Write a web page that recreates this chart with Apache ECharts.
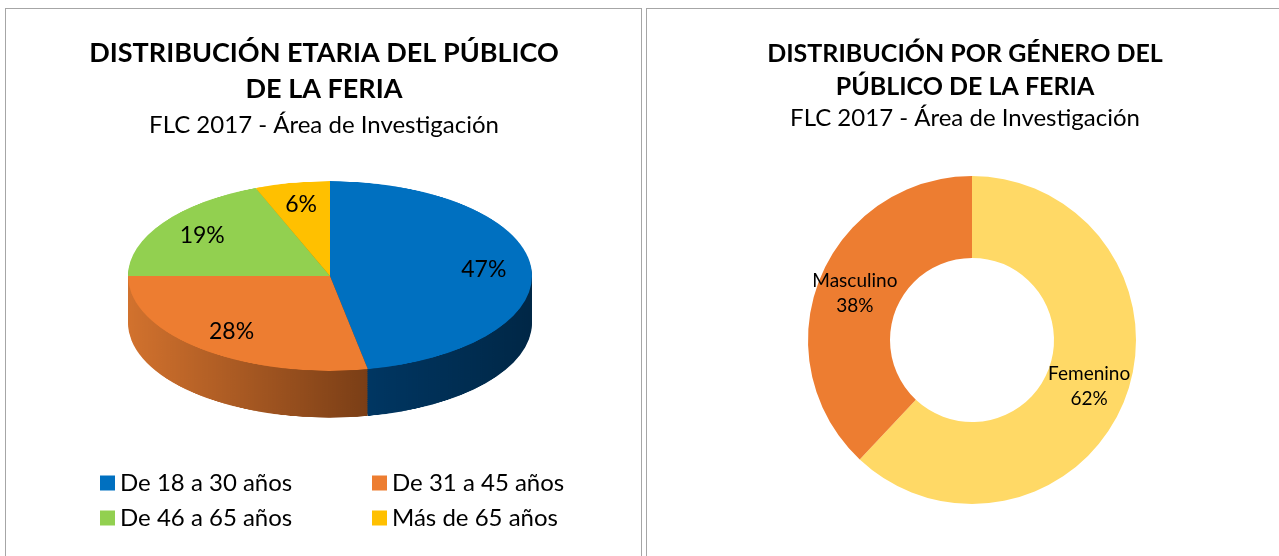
<!DOCTYPE html>
<html>
<head>
<meta charset="utf-8">
<script src="https://cdn.jsdelivr.net/npm/echarts@6/dist/echarts.min.js"></script>
<style>
  html, body { margin: 0; padding: 0; background: #fff; overflow: hidden; }
  #wrap { position: relative; width: 1279px; height: 556px; }
  .panel { position: absolute; top: 8px; height: 560px; border: 1px solid #a6a6a6; }
  /* the 3d pie is drawn round and squeezed vertically */
  #pie3d { position: absolute; left: 0; top: 0; width: 640px; height: 700px;
           transform-origin: 0 276px; transform: scaleY(0.469); }
  #main { position: absolute; left: 0; top: 0; width: 1279px; height: 556px; }
</style>
</head>
<body>
<div id="wrap">
  <div class="panel" style="left:5px;width:635px;"></div>
  <div class="panel" style="left:646px;width:700px;"></div>
  <div id="pie3d"></div>
  <div id="main"></div>
</div>
<script>
  // datos
  var ageNames = ['De 18 a 30 años', 'De 31 a 45 años', 'De 46 a 65 años', 'Más de 65 años'];
  var ageValues = [47, 28, 19, 6];
  var ageColors = ['#0070C0', '#ED7D31', '#92D050', '#FFC000'];
  var ageSideColors = [['#003a69', '#002746'], ['#d2722e', '#7a3e16'], ['#6f9f3c', '#4e7b27'], ['#cc9a00', '#9a7400']];

  var genderNames = ['Femenino', 'Masculino'];
  var genderValues = [62, 38];
  var genderColors = ['#FFD966', '#ED7D31'];

  var tilt = 0.469;
  var cx = 330, cy = 276, r = 202, depth = 100;
  var font = 'Lato';

  function ageData(colors, gradient) {
    return ageValues.map(function (v, i) {
      var c = gradient
        ? new echarts.graphic.LinearGradient(0, 0, 1, 0, [
            {offset: 0, color: colors[i][0]},
            {offset: 1, color: colors[i][1]}
          ])
        : colors[i];
      return {value: v, name: ageNames[i], itemStyle: {color: c}};
    });
  }

  // --- pie 3d (squeezed by css) ---
  var pieSeries = [];
  for (var k = depth; k > 0; k -= 4) {
    pieSeries.push({
      type: 'pie', silent: true, z: 1,
      center: [cx, cy + k], radius: r, startAngle: 90,
      label: {show: false}, labelLine: {show: false},
      data: ageData(ageSideColors, true)
    });
  }
  pieSeries.push({
    type: 'pie', silent: true, z: 2,
    center: [cx, cy], radius: r, startAngle: 90,
    label: {show: false}, labelLine: {show: false},
    data: ageData(ageColors, false)
  });

  var pie3d = echarts.init(document.getElementById('pie3d'));
  pie3d.setOption({animation: false, series: pieSeries});

  // --- titles, legend, labels and donut ---
  var legendPos = [[100, 468], [372, 468], [100, 503], [372, 503]];
  var legends = ageNames.map(function (n, i) {
    return {
      left: legendPos[i][0], top: legendPos[i][1], padding: 0,
      itemWidth: 15, itemHeight: 15, icon: 'rect',
      data: [{name: n, itemStyle: {color: ageColors[i], opacity: 1}}],
      textStyle: {fontFamily: font, fontSize: 24, lineHeight: 30, color: '#000'}
    };
  });

  var main = echarts.init(document.getElementById('main'));
  main.setOption({
    animation: false,
    title: [
      {
        text: 'DISTRIBUCIÓN ETARIA DEL PÚBLICO\nDE LA FERIA',
        subtext: 'FLC 2017 - Área de Investigación',
        left: 324, top: 35, textAlign: 'center', padding: 0, itemGap: 3,
        textStyle: {fontFamily: font, fontWeight: 'bold', fontSize: 27, lineHeight: 36, color: '#000'},
        subtextStyle: {fontFamily: font, fontSize: 24, lineHeight: 30, color: '#000'}
      },
      {
        text: 'DISTRIBUCIÓN POR GÉNERO DEL\nPÚBLICO DE LA FERIA',
        subtext: 'FLC 2017 - Área de Investigación',
        left: 965, top: 37, textAlign: 'center', padding: 0, itemGap: 0,
        textStyle: {fontFamily: font, fontWeight: 'bold', fontSize: 25, lineHeight: 33, color: '#000'},
        subtextStyle: {fontFamily: font, fontSize: 24, lineHeight: 30, color: '#000'}
      }
    ],
    legend: legends,
    series: [
      {
        // invisible copy of the age pie, only for its labels
        type: 'pie', silent: true,
        center: [cx, cy], radius: [r * 0.5, r], startAngle: 90,
        itemStyle: {color: 'rgba(0,0,0,0)'},
        label: {show: true, position: 'inside', formatter: '{c}%',
                fontFamily: font, fontSize: 23, color: '#000'},
        labelLine: {show: false},
        labelLayout: function (p) {
          var my = p.labelRect.y + p.labelRect.height / 2;
          return {y: cy + (my - cy) * tilt};
        },
        data: ageValues.map(function (v, i) { return {value: v, name: ageNames[i]}; })
      },
      {
        type: 'pie', silent: true,
        center: [972, 340], radius: [82, 164], startAngle: 90,
        label: {show: true, position: 'inside', formatter: '{b}\n{c}%',
                fontFamily: font, fontSize: 19, lineHeight: 25, color: '#000'},
        labelLine: {show: false},
        data: genderValues.map(function (v, i) {
          return {value: v, name: genderNames[i], itemStyle: {color: genderColors[i]}};
        })
      }
    ]
  });
</script>
</body>
</html>
